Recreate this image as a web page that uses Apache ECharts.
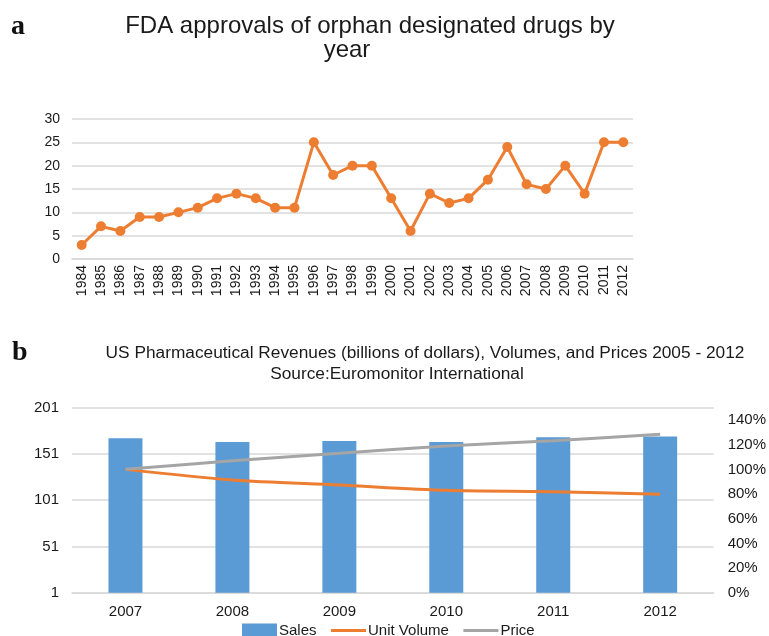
<!DOCTYPE html>
<html>
<head>
<meta charset="utf-8">
<script src="https://cdn.jsdelivr.net/npm/echarts@6/dist/echarts.min.js"></script>
<style>
  html, body { margin: 0; padding: 0; background: #fff; }
  #chart { width: 769px; height: 636px; }
</style>
</head>
<body>
<div id="chart"></div>
<script>
// Panel a: FDA orphan-drug approvals per year
const approvalYears = ['1984','1985','1986','1987','1988','1989','1990','1991','1992','1993',
  '1994','1995','1996','1997','1998','1999','2000','2001','2002','2003','2004','2005','2006',
  '2007','2008','2009','2010','2011','2012'];
const approvals = [3, 7, 6, 9, 9, 10, 11, 13, 14, 13, 11, 11, 25, 18, 20, 20, 13, 6, 14, 12,
  13, 17, 24, 16, 15, 20, 14, 25, 25];

// Panel b: US pharmaceutical sales, unit volume and price index
const marketYears = ['2007', '2008', '2009', '2010', '2011', '2012'];
const sales = [168, 164, 165, 164, 169, 170];
const unitVolume = [100, 91.4, 87.3, 83, 81.9, 79.8];
const price = [100, 107, 113, 119, 123.3, 128.4];

const FONT = '"Liberation Sans", Arial, Helvetica, sans-serif';
const SERIF = '"Liberation Serif", "DejaVu Serif", serif';
const TXT = '#1a1a1a';
const GRID = '#d9d9d9';
const ORANGE = '#ED7D31';
const GREY = '#A5A5A5';
const BLUE = '#5B9BD5';
const NO_MARK = { color: 'rgba(0,0,0,0)', borderColor: 'rgba(0,0,0,0)', borderWidth: 0 };

const chart = echarts.init(document.getElementById('chart'), null, { renderer: 'canvas' });

chart.setOption({
  animation: false,
  backgroundColor: '#ffffff',
  textStyle: { fontFamily: FONT },
  title: [
    { text: 'a', left: 6, top: 8, textStyle: { fontFamily: SERIF, fontWeight: 'bold', fontSize: 28, color: '#111' } },
    { text: 'FDA approvals of orphan designated drugs by', left: 365, top: 9, textAlign: 'center',
      textStyle: { fontFamily: FONT, fontWeight: 'normal', fontSize: 24, color: TXT } },
    { text: 'year', left: 342, top: 33, textAlign: 'center',
      textStyle: { fontFamily: FONT, fontWeight: 'normal', fontSize: 24, color: TXT } },
    { text: 'b', left: 7, top: 334, textStyle: { fontFamily: SERIF, fontWeight: 'bold', fontSize: 28, color: '#111' } },
    { text: 'US Pharmaceutical Revenues (billions of dollars), Volumes, and Prices 2005 - 2012', left: 420, top: 340,
      textAlign: 'center', textStyle: { fontFamily: FONT, fontWeight: 'normal', fontSize: 17.3, color: TXT } },
    { text: 'Source:Euromonitor International', left: 392, top: 361, textAlign: 'center',
      textStyle: { fontFamily: FONT, fontWeight: 'normal', fontSize: 17.3, color: TXT } }
  ],
  legend: {
    data: [
      { name: 'Sales', icon: 'rect', itemStyle: { color: BLUE } },
      { name: 'Unit Volume', itemStyle: NO_MARK, lineStyle: { color: ORANGE, width: 3 } },
      { name: 'Price', itemStyle: NO_MARK, lineStyle: { color: GREY, width: 3 } }
    ],
    left: 242, top: 623, padding: 0,
    itemWidth: 35, itemHeight: 14, itemGap: 13,
    textStyle: { fontFamily: FONT, fontSize: 15, color: TXT, padding: [0, 0, 0, -3] },
    selectedMode: false
  },
  grid: [
    { left: 72, right: 136, top: 119, height: 140, containLabel: false },
    { left: 72, right: 54.4, top: 407.7, height: 185, containLabel: false }
  ],
  xAxis: [
    {
      gridIndex: 0, type: 'category', data: approvalYears, boundaryGap: true,
      axisLine: { show: true, lineStyle: { color: GRID, width: 1.5 } },
      axisTick: { show: false },
      axisLabel: { rotate: 90, margin: 6, fontSize: 14, color: TXT, fontFamily: FONT, interval: 0 }
    },
    {
      gridIndex: 1, type: 'category', data: marketYears, boundaryGap: true,
      axisLine: { show: true, lineStyle: { color: GRID, width: 1.5 } },
      axisTick: { show: false },
      axisLabel: { margin: 12, fontSize: 15, color: TXT, fontFamily: FONT }
    }
  ],
  yAxis: [
    {
      gridIndex: 0, type: 'value', min: 0, max: 30, interval: 5,
      axisLine: { show: false }, axisTick: { show: false },
      splitLine: { lineStyle: { color: GRID, width: 1.5 } },
      axisLabel: { margin: 12, fontSize: 14, color: TXT, fontFamily: FONT }
    },
    {
      gridIndex: 1, type: 'value', min: 1, max: 201, interval: 50,
      axisLine: { show: false }, axisTick: { show: false },
      splitLine: { lineStyle: { color: GRID, width: 1.5 } },
      axisLabel: { margin: 13, fontSize: 15, color: TXT, fontFamily: FONT }
    },
    {
      gridIndex: 1, type: 'value', position: 'right', min: 0, max: 150, interval: 20,
      axisLine: { show: false }, axisTick: { show: false },
      splitLine: { show: false },
      axisLabel: { margin: 14, fontSize: 15, color: TXT, fontFamily: FONT,
        showMaxLabel: false, formatter: '{value}%' }
    }
  ],
  series: [
    {
      name: 'Approvals', type: 'line', xAxisIndex: 0, yAxisIndex: 0, data: approvals,
      symbol: 'circle', symbolSize: 10,
      lineStyle: { color: ORANGE, width: 3 },
      itemStyle: { color: ORANGE }
    },
    {
      name: 'Sales', type: 'bar', xAxisIndex: 1, yAxisIndex: 1, data: sales,
      barWidth: 34, itemStyle: { color: BLUE }
    },
    {
      name: 'Unit Volume', type: 'line', xAxisIndex: 1, yAxisIndex: 2, data: unitVolume,
      smooth: 0.3, symbol: 'none', showSymbol: false,
      lineStyle: { color: ORANGE, width: 3 }, itemStyle: { color: ORANGE }
    },
    {
      name: 'Price', type: 'line', xAxisIndex: 1, yAxisIndex: 2, data: price,
      smooth: 0.3, symbol: 'none', showSymbol: false,
      lineStyle: { color: GREY, width: 3 }, itemStyle: { color: GREY }
    }
  ]
});
</script>
</body>
</html>
